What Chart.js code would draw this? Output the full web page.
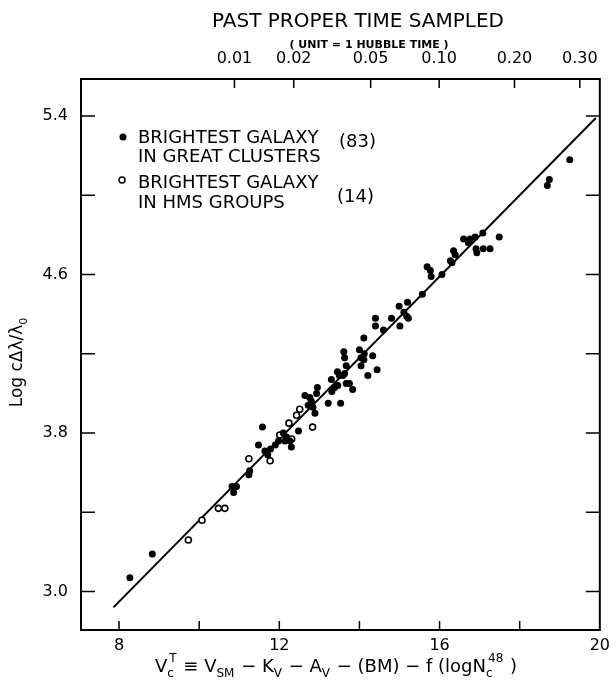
<!DOCTYPE html>
<html>
<head>
<meta charset="utf-8">
<script src="https://cdn.jsdelivr.net/npm/chart.js@4.4.0/dist/chart.umd.min.js"></script>
<style>
  html, body { margin: 0; padding: 0; background: #fff; }
</style>
</head>
<body>
<canvas id="chart1" width="616" height="690"></canvas>
<script>
// brightest galaxy in great clusters (filled)
var clusterX = [8.27, 8.83, 10.82, 10.93, 10.86, 11.24, 11.26, 11.48, 11.58, 11.64,
  11.71, 11.78, 11.90, 11.98, 12.10, 12.18, 12.14, 12.27, 12.30, 12.48,
  12.64, 12.76, 12.80, 12.84, 12.89, 12.93, 12.95, 12.72, 13.22, 13.53,
  13.30, 13.31, 13.38, 13.46, 13.45, 13.50, 13.59, 13.63, 13.67, 13.75,
  13.83, 13.61, 13.63, 13.67, 14.00, 14.12, 14.04, 14.11, 14.33, 14.21,
  14.44, 14.04, 14.11, 14.40, 14.40, 14.60, 14.80, 14.99, 15.01, 15.11,
  15.18, 15.22, 15.20, 15.57, 15.69, 15.77, 15.79, 16.06, 16.27, 16.35,
  16.39, 16.31, 16.60, 16.72, 16.76, 16.89, 16.93, 16.91, 17.08, 17.09,
  17.26, 17.49, 18.74, 18.69, 19.25];
var clusterY = [3.07, 3.19, 3.53, 3.53, 3.50, 3.59, 3.61, 3.74, 3.83, 3.71,
  3.69, 3.72, 3.74, 3.76, 3.80, 3.78, 3.76, 3.76, 3.73, 3.81,
  3.99, 3.98, 3.96, 3.93, 3.90, 4.00, 4.03, 3.94, 3.95, 3.95,
  4.07, 4.01, 4.03, 4.04, 4.11, 4.09, 4.09, 4.10, 4.05, 4.05,
  4.02, 4.21, 4.18, 4.14, 4.22, 4.20, 4.18, 4.17, 4.19, 4.09,
  4.12, 4.14, 4.28, 4.38, 4.34, 4.32, 4.38, 4.44, 4.34, 4.41,
  4.39, 4.38, 4.46, 4.50, 4.64, 4.62, 4.59, 4.60, 4.67, 4.72,
  4.70, 4.66, 4.78, 4.76, 4.78, 4.79, 4.71, 4.73, 4.81, 4.73,
  4.73, 4.79, 5.08, 5.05, 5.18];

// brightest galaxy in HMS groups (open)
var groupX = [9.73, 10.07, 10.48, 10.64, 11.24, 11.77, 12.01, 12.31, 12.24, 12.43, 12.51, 12.83];
var groupY = [3.26, 3.36, 3.42, 3.42, 3.67, 3.66, 3.79, 3.77, 3.85, 3.89, 3.92, 3.83];

// fitted line
var fitX = [7.86, 19.9];
var fitY = [2.92, 5.39];

var xTicks = [8, 10, 12, 14, 16, 18, 20];
var xLabels = [8, 12, 16, 20];
var yTicks = [3.0, 3.4, 3.8, 4.2, 4.6, 5.0, 5.4];
var yLabels = [3.0, 3.8, 4.6, 5.4];
var timeTicks = [10.88, 12.36, 14.28, 15.99, 17.87, 19.50];
var timeLabels = ['0.01', '0.02', '0.05', '0.10', '0.20', '0.30'];

function toPoints(xs, ys) {
  return xs.map(function(x, i) { return {x: x, y: ys[i]}; });
}
function hasVal(list, v) {
  return list.some(function(l) { return Math.abs(l - v) < 1e-6; });
}

// draw text made of normal / sub / sup pieces
function drawParts(ctx, parts, x, y, size) {
  var small = Math.round(size * 0.66);
  parts.forEach(function(p) {
    if (p.t) {
      ctx.font = size + 'px "DejaVu Sans"';
      ctx.fillText(p.t, x, y);
      x += ctx.measureText(p.t).width;
    } else {
      ctx.font = small + 'px "DejaVu Sans"';
      var w = 0;
      if (p.sub) { ctx.fillText(p.sub, x, y + size * 0.3); w = ctx.measureText(p.sub).width; }
      if (p.sup) { ctx.fillText(p.sup, x + (p.supShift || 0), y - size * 0.55); w = Math.max(w, ctx.measureText(p.sup).width + (p.supShift || 0)); }
      x += w + 1;
    }
  });
}

var decor = {
  id: 'decor',
  afterDraw: function(chart) {
    var ctx = chart.ctx, a = chart.chartArea;
    var xs = chart.scales.x, ys = chart.scales.y;
    ctx.save();
    ctx.strokeStyle = '#000';
    ctx.fillStyle = '#000';
    // frame
    ctx.lineWidth = 2;
    ctx.strokeRect(a.left, a.top, a.right - a.left, a.bottom - a.top);
    // inward ticks
    ctx.lineWidth = 1.5;
    ctx.beginPath();
    xTicks.forEach(function(v) {
      if (v >= xs.max) return;
      var px = xs.getPixelForValue(v);
      ctx.moveTo(px, a.bottom); ctx.lineTo(px, a.bottom - 9);
    });
    timeTicks.forEach(function(v) {
      var px = xs.getPixelForValue(v);
      ctx.moveTo(px, a.top); ctx.lineTo(px, a.top + 9);
    });
    yTicks.forEach(function(v) {
      var py = ys.getPixelForValue(v);
      ctx.moveTo(a.left, py); ctx.lineTo(a.left + 14, py);
      ctx.moveTo(a.right, py); ctx.lineTo(a.right - 14, py);
    });
    ctx.stroke();

    // titles at the top
    ctx.textAlign = 'center';
    ctx.textBaseline = 'alphabetic';
    ctx.font = '20px "DejaVu Sans"';
    ctx.fillText('PAST PROPER TIME SAMPLED', 358, 27);
    ctx.font = 'bold 11px "DejaVu Sans"';
    ctx.fillText('( UNIT = 1 HUBBLE TIME )', 369, 48);

    // legend
    ctx.textAlign = 'left';
    ctx.font = '18px "DejaVu Sans"';
    ctx.beginPath();
    ctx.arc(123, 137, 3.5, 0, Math.PI * 2);
    ctx.fill();
    ctx.fillText('BRIGHTEST GALAXY', 138, 143);
    ctx.fillText('IN GREAT CLUSTERS', 138, 162);
    ctx.fillText('(83)', 339, 147);
    ctx.beginPath();
    ctx.lineWidth = 1.5;
    ctx.arc(122, 180, 3, 0, Math.PI * 2);
    ctx.stroke();
    ctx.fillText('BRIGHTEST GALAXY', 138, 188);
    ctx.fillText('IN HMS GROUPS', 138, 208);
    ctx.fillText('(14)', 337, 202);

    // x axis title
    drawParts(ctx, [
      {t: 'V'}, {sub: 'c', sup: 'T', supShift: 2}, {t: ' \u2261 V'}, {sub: 'SM'},
      {t: ' \u2212 K'}, {sub: 'V'}, {t: ' \u2212 A'}, {sub: 'V'},
      {t: ' \u2212 (BM) \u2212 f (logN'}, {sub: 'c', sup: '48', supShift: 2}, {t: ' )'}
    ], 155, 672, 18);

    // y axis title
    ctx.translate(22, 362);
    ctx.rotate(-Math.PI / 2);
    ctx.font = '17px "DejaVu Sans"';
    var yt = 'Log c\u0394\u03bb/\u03bb';
    var w = ctx.measureText(yt).width;
    drawParts(ctx, [{t: yt}, {sub: '0'}], -w / 2 - 4, 0, 17);
    ctx.restore();
  }
};

Chart.defaults.font.family = '"DejaVu Sans"';
Chart.defaults.color = '#000';

var ctx = document.getElementById('chart1').getContext('2d');
var myChart = new Chart(ctx, {
  type: 'scatter',
  data: {
    datasets: [{
      label: 'Brightest galaxy in great clusters',
      data: toPoints(clusterX, clusterY),
      backgroundColor: '#000',
      borderColor: '#000',
      borderWidth: 0,
      pointRadius: 3.5
    },
    {
      label: 'Brightest galaxy in HMS groups',
      data: toPoints(groupX, groupY),
      backgroundColor: '#fff',
      borderColor: '#000',
      borderWidth: 1.6,
      pointRadius: 3
    },
    {
      label: 'fit',
      data: toPoints(fitX, fitY),
      showLine: true,
      borderColor: '#000',
      borderWidth: 2,
      pointRadius: 0
    }]
  },
  options: {
    responsive: false,
    animation: false,
    devicePixelRatio: 1,
    layout: { padding: { left: 0, right: 12, top: 0, bottom: 0 } },
    plugins: {
      legend: { display: false },
      tooltip: { enabled: false }
    },
    scales: {
      x: {
        type: 'linear',
        position: 'bottom',
        min: 7.05,
        max: 20,
        afterFit: function(s) { s.height = 60; },
        afterBuildTicks: function(s) { s.ticks = xTicks.map(function(v) { return {value: v}; }); },
        grid: { display: false, drawTicks: false },
        border: { display: false },
        ticks: {
          autoSkip: false,
          maxRotation: 0,
          padding: 6,
          font: { size: 16 },
          callback: function(v) { return hasVal(xLabels, v) ? String(v) : ''; }
        }
      },
      x2: {
        type: 'linear',
        position: 'top',
        min: 7.05,
        max: 20,
        afterFit: function(s) { s.height = 79; },
        afterBuildTicks: function(s) { s.ticks = timeTicks.map(function(v) { return {value: v}; }); },
        grid: { display: false, drawTicks: false },
        border: { display: false },
        ticks: {
          autoSkip: false,
          maxRotation: 0,
          padding: 11,
          font: { size: 16 },
          callback: function(v, i) { return timeLabels[i]; }
        }
      },
      y: {
        type: 'linear',
        position: 'left',
        min: 2.806,
        max: 5.587,
        afterFit: function(s) { s.width = 81; },
        afterBuildTicks: function(s) { s.ticks = yTicks.map(function(v) { return {value: v}; }); },
        grid: { display: false, drawTicks: false },
        border: { display: false },
        ticks: {
          autoSkip: false,
          padding: 13,
          font: { size: 16 },
          callback: function(v) { return hasVal(yLabels, v) ? v.toFixed(1) : ''; }
        }
      }
    }
  },
  plugins: [decor]
});
</script>
</body>
</html>
